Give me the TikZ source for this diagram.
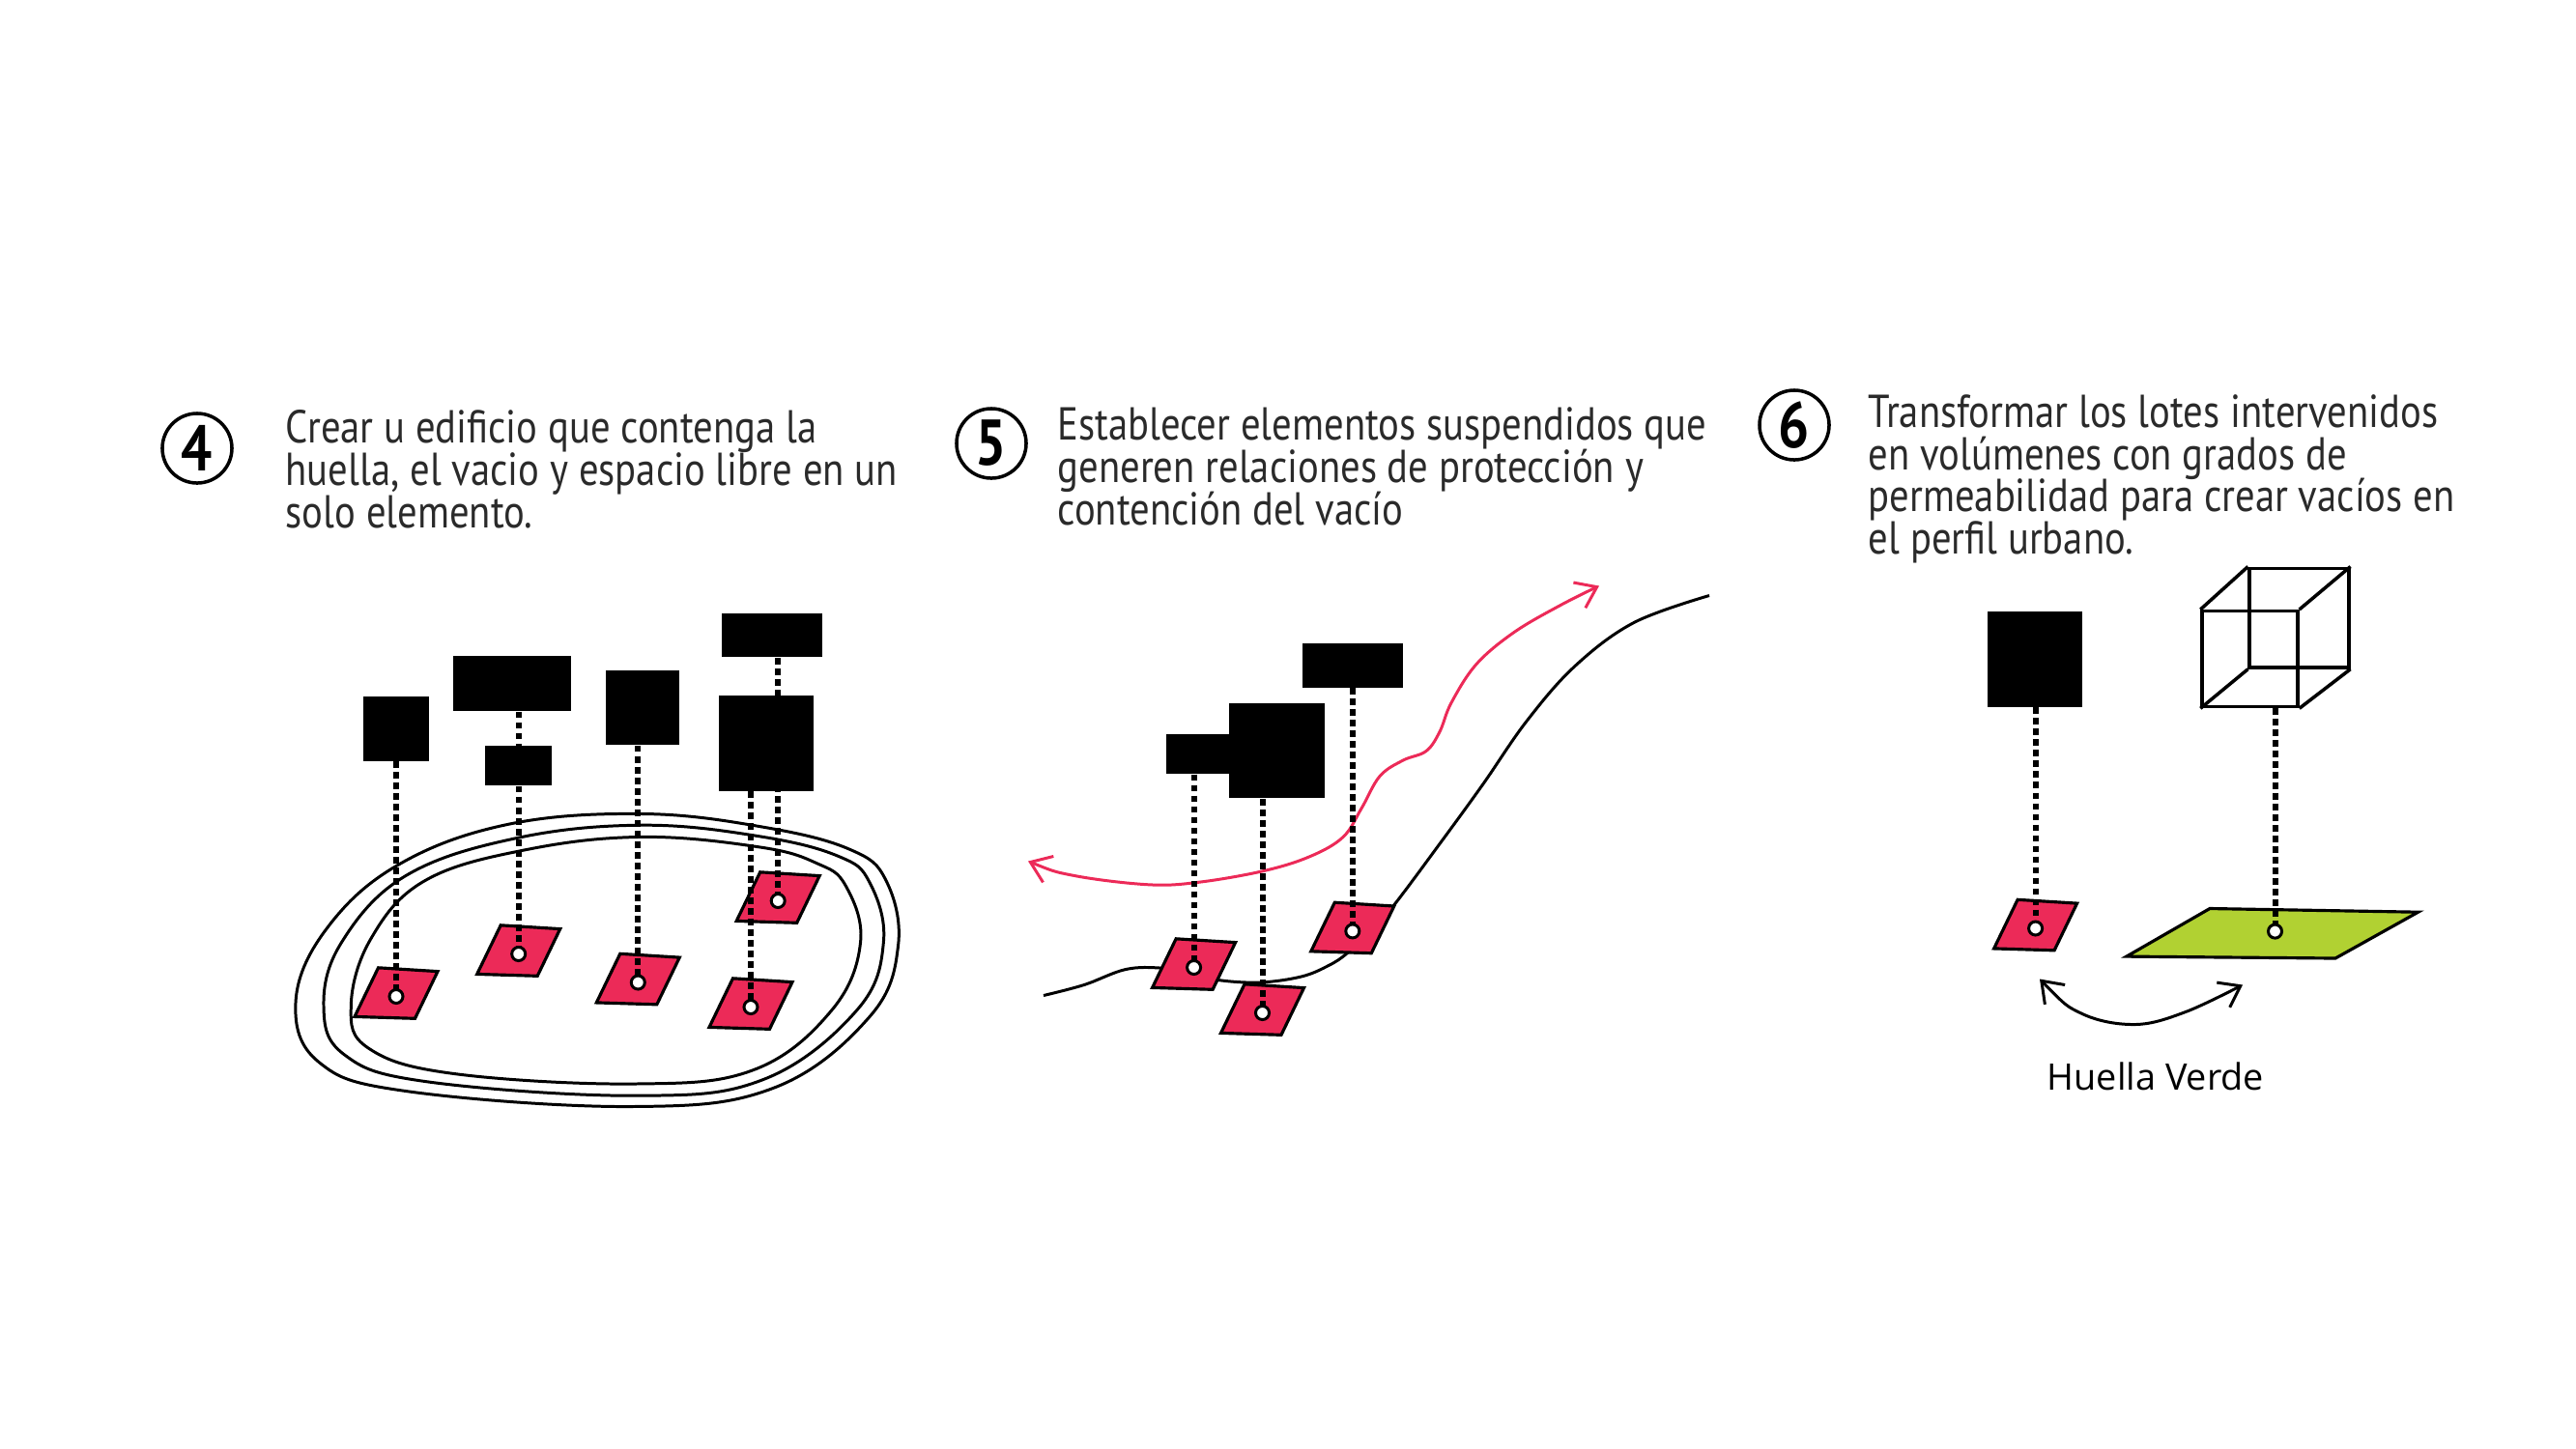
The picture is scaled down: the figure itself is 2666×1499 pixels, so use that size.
\documentclass[tikz,border=0pt]{standalone}
\usepackage{fontspec}
\setmainfont[FakeStretch=0.85]{PT Sans}
\newfontfamily\labelfont{Open Sans}
\usetikzlibrary{arrows.meta,calc}
\definecolor{hlink}{HTML}{2A2A2A}
\definecolor{hred}{HTML}{EC2A58}
\definecolor{hgreen}{HTML}{B1D132}

\begin{document}
\begin{tikzpicture}[
  x=0.01cm,y=-0.01cm,
  solid block/.style={rectangle,fill=black,inner sep=0pt},
  wire block/.style={rectangle,draw=black,line width=1pt,inner sep=0pt},
  lot/.style={draw=black,line width=0.9pt,fill=hred,line join=miter},
  lawn/.style={draw=black,line width=0.9pt,fill=hgreen,line join=miter},
  hole/.style={circle,draw=black,line width=0.85pt,fill=white,inner sep=0pt,minimum size=0.14cm},
  plumb/.style={draw=black,line width=1.7pt,dash pattern=on 0.065cm off 0.045cm},
  contour/.style={draw=black,line width=0.85pt},
  stepmark/.style={circle,draw=black,line width=1pt,inner sep=0pt,minimum size=0.72cm,font=\fontsize{19}{19}\selectfont\bfseries},
  blurb/.style={anchor=north west,align=left,inner sep=0pt,text=hlink,font=\fontsize{13.6}{12.5}\selectfont\setlength{\lineskiplimit}{-10pt}},
  flow/.style={{Straight Barb[length=2mm,width=2.9mm]}-{Straight Barb[length=2mm,width=2.9mm]},line width=0.85pt},
]
\useasboundingbox (0,0) rectangle (2666,1499);

% Step headings
\node[stepmark] (n4) at (204,464) {4};
\node[stepmark] (n5) at (1026,459) {5};
\node[stepmark] (n6) at (1857,440) {6};
\node[blurb] (t4) at (295,424) {Crear u edificio que contenga la\\huella, el vacio y espacio libre en un\\solo elemento.};
\node[blurb] (t5) at (1094,421) {Establecer elementos suspendidos que\\generen relaciones de protección y\\contención del vacío};
\node[blurb] (t6) at (1933,407.5) {Transformar los lotes intervenidos\\en volúmenes con grados de\\permeabilidad para crear vacíos en\\el perfil urbano.};

\begin{scope}[yshift=-0.015cm]
% Panel 4: three site contours
\draw[contour] plot[smooth cycle,tension=0.65] coordinates {(666,841) (525,852) (410,895) (336,962.6) (306,1036.5) (330,1098) (420,1128) (653,1144) (800,1125) (900,1051) (929.6,977) (917,910) (880,878) (791.7,855)};
\draw[contour] plot[smooth cycle,tension=0.65] coordinates {(666,852.7) (535,866) (420,905) (353.7,973.7) (335,1040) (356,1090) (440,1118) (657.3,1132.7) (790,1116) (887,1044) (914.4,973.7) (900,912) (868,885) (787.4,864.5)};
\draw[contour] plot[smooth cycle,tension=0.65] coordinates {(666,864.9) (545,878) (440,910) (384,970) (363.3,1040) (382,1084) (470,1110) (657.3,1120.5) (780,1106) (861,1044) (890.6,973.7) (875,915) (845,892) (787.4,875.6)};

% Panel 5: ground line and flow
\draw[contour] plot[smooth,tension=0.6] coordinates {(1080,1029) (1122,1018) (1165,1002) (1202,1000.6) (1235,1006) (1260.5,1013) (1303.6,1015.5) (1346.7,1009.5) (1375,998) (1394.5,985) (1420,960) (1443,935) (1490,872) (1535,810) (1580,745) (1630,688) (1691,643) (1769,615)};
\draw[flow,draw=hred] plot[smooth,tension=0.6] coordinates {(1064,890) (1112,905) (1189,914.3) (1241,911.7) (1308,900) (1356,885) (1390,865) (1409,835.4) (1428,802) (1452,785.6) (1476,776) (1490,756) (1502,726) (1528,686) (1567,653) (1615,625) (1655,605)};

% Panel 6: green footprint
\draw[lawn] (2287,939) -- (2502.6,942.7) -- (2417,990.5) -- (2200.8,988.6) -- cycle;
\draw[flow,draw=black] plot[smooth,tension=0.6] coordinates {(2111,1012) (2155,1048) (2210,1059) (2262,1046) (2321,1018)};
\node[anchor=base,inner sep=0pt,text=black,font=\labelfont\fontsize{10.75}{12}\selectfont] (huella) at (2231,1127) {Huella Verde};

% Lots, volumes and plumb lines
\foreach \x/\y in {410/1030,536.7/986,660.3/1015.5,777/1041,805.2/931,1235.6/1000,1306.5/1047,1399.8/962.4,2106.6/959.5}
  \draw[lot] ($(\x,\y)+(-18.5,-29.7)$) -- ++(61.5,3.8) -- ++(-23.5,48.7) -- ++(-62.5,-1.9) -- cycle;

\foreach \id/\x/\y/\w/\h in {
  b1/410/752.5/0.672/0.67,
  b2/530/706.2/1.22/0.57,
  b3/536.7/790.5/0.694/0.41,
  b4/665/731/0.754/0.775,
  b5/799/656/1.03/0.457,
  b6/792.6/768/0.98/0.98,
  c1/1241/779/0.68/0.41,
  c2/1321.7/775.5/0.985/0.985,
  c3/1400/687/1.04/0.46,
  d1/2106.2/681/0.983/0.984}
  \node[solid block,minimum width=\w cm,minimum height=\h cm] (\id) at (\x,\y) {};

\node[wire block,minimum width=0.988cm,minimum height=0.988cm] (front) at (2328.5,680.6) {};
\node[wire block,minimum width=1.025cm,minimum height=1.026cm] (back) at (2379.5,638.1) {};
\draw[line width=1pt] (front.north west) -- (back.north west);
\draw[line width=1pt] (front.north east) -- (back.north east);
\draw[line width=1pt] (front.south west) -- (back.south west);
\draw[line width=1pt] (front.south east) -- (back.south east);

\foreach \id/\x/\y/\upper in {
  h1/410/1030/b1,
  h2/536.7/986/b2,
  h3/660.3/1015.5/b4,
  h4/777/1041/b6,
  h5/805.2/931/b5,
  h6/1235.6/1000/c1,
  h7/1306.5/1047/c2,
  h8/1399.8/962.4/c3,
  h9/2106.6/959.5/d1,
  h10/2354.5/962.6/front}
  {
    \coordinate (\id) at (\x,\y);
    \draw[plumb] (\upper.south -| \id) -- (\id);
    \node[hole] (\id) at (\x,\y) {};
  }
\end{scope}
\end{tikzpicture}
\end{document}
